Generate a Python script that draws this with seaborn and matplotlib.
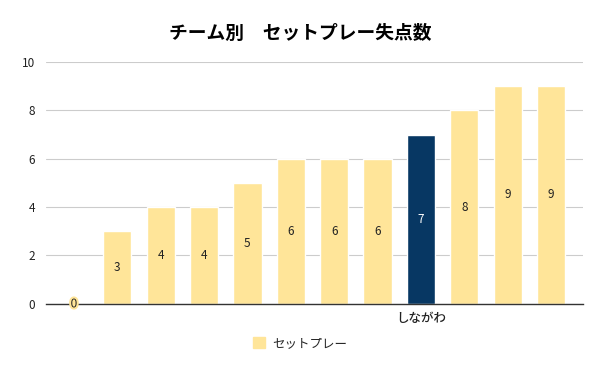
import seaborn as sns
import matplotlib.pyplot as plt
import matplotlib.patheffects as pe
import pandas as pd

# データ
points = [0, 3, 4, 4, 5, 6, 6, 6, 7, 8, 9, 9]
tick_labels = ['', '', '', '', '', '', '', '', 'しながわ', '', '', '']
highlight = 'しながわ'
series_name = 'セットプレー'

yellow = '#FFE599'
navy = '#073763'

sns.set_style('white')
plt.rcParams['font.family'] = ['Noto Sans CJK JP', 'DejaVu Sans']

df = pd.DataFrame({'slot': range(len(points)), 'points': points, 'team': tick_labels})
palette = [navy if t == highlight else yellow for t in tick_labels]

fig = plt.figure(figsize=(6, 3.71), dpi=100)
ax = fig.add_axes([0.077, 0.181, 0.895, 0.652])

sns.barplot(data=df, x='slot', y='points', hue='slot', palette=palette,
            width=0.65, legend=False, ax=ax, saturation=1)

# 値ラベル（棒の中央）
for i, v in enumerate(points):
    color = 'white' if tick_labels[i] == highlight else '#222222'
    t = ax.text(i, v / 2, f'{v}', ha='center', va='center', fontsize=8.5, color=color)
    if v == 0:
        t.set_path_effects([pe.withStroke(linewidth=3, foreground=yellow)])

ax.set_xticks(range(len(points)))
ax.set_xticklabels(tick_labels, fontsize=9, fontweight='medium', color='#222222')
ax.set_xlim(-0.64, len(points) - 0.26)
ax.set_ylim(0, 10)
ax.set_yticks(range(0, 11, 2))
ax.tick_params(axis='y', labelsize=8.5, colors='#222222', length=0, pad=8)
ax.tick_params(axis='x', length=0, pad=6)
ax.set_xlabel('')
ax.set_ylabel('')
ax.yaxis.grid(True, color='#cccccc', linewidth=0.8)
ax.set_axisbelow(True)
for s in ['top', 'right', 'left']:
    ax.spines[s].set_visible(False)
ax.spines['bottom'].set_color('#333333')
ax.spines['bottom'].set_linewidth(1)

# 凡例
handle = plt.Rectangle((0, 0), 1, 1, color=yellow)
fig.legend([handle], [series_name], loc='center', bbox_to_anchor=(0.5, 0.075),
           frameon=False, fontsize=9, handlelength=1, handleheight=1, handletextpad=0.6)

fig.suptitle('チーム別　セットプレー失点数', fontsize=13.5, fontweight='bold',
             color='black', y=0.935)

plt.savefig('out.png', dpi=100)
